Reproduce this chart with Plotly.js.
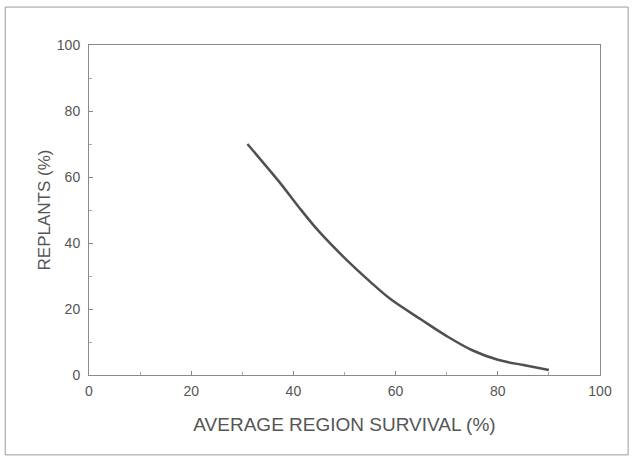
<!DOCTYPE html>
<html>
<head>
<meta charset="utf-8">
<script src="https://cdn.plot.ly/plotly-3.0.1.min.js"></script>
<style>html,body{margin:0;padding:0;background:#fff;}#chart{width:632px;height:458px;}</style>
</head>
<body>
<div id="chart"></div>
<script>
const survival = [31, 34, 37.5, 41, 45, 50, 55, 59, 65, 70, 75, 80, 85, 90];
const replants = [70, 64.5, 58, 51, 43.5, 35.5, 28.3, 23, 16.8, 11.8, 7.5, 4.6, 3, 1.5];
const xTicks = [0, 20, 40, 60, 80, 100];
const yTicks = [0, 20, 40, 60, 80, 100];
const xTitle = "AVERAGE REGION SURVIVAL (%)";
const yTitle = "REPLANTS (%)";

const fontFam = "Liberation Sans, Arial, sans-serif";
const axisCommon = {
  showgrid: false, zeroline: false, showline: true, mirror: true,
  linecolor: "#8a8a8a", linewidth: 1,
  ticks: "inside", ticklen: 4, tickcolor: "#8a8a8a", tickwidth: 1,
  tickfont: {family: fontFam, size: 14, color: "#555"},
  minor: {ticks: "inside", ticklen: 3, tickcolor: "#aaa", dtick: 10},
  fixedrange: true
};

Plotly.newPlot("chart", [{
  x: survival, y: replants, type: "scatter", mode: "lines",
  line: {color: "#505050", width: 2.5, shape: "spline", smoothing: 1},
  hoverinfo: "skip"
}], {
  width: 632, height: 458,
  margin: {l: 89, r: 32, t: 45, b: 83},
  paper_bgcolor: "#fff", plot_bgcolor: "#fff",
  showlegend: false,
  xaxis: Object.assign({}, axisCommon, {
    range: [0, 100], tickvals: xTicks, ticktext: xTicks.map(String),
    ticklabelstandoff: 3,
    title: {text: xTitle, font: {family: fontFam, size: 19, color: "#555"}, standoff: 19}
  }),
  yaxis: Object.assign({}, axisCommon, {
    range: [0, 100], tickvals: yTicks, ticktext: yTicks.map(String),
    ticklabelstandoff: 5,
    title: {text: yTitle, font: {family: fontFam, size: 17, color: "#555"}, standoff: 1}
  }),
  shapes: [{
    type: "rect", xref: "paper", yref: "paper",
    x0: -0.164, x1: 1.055, y0: -0.242, y1: 1.115,
    line: {color: "#999", width: 1}, fillcolor: "rgba(0,0,0,0)", layer: "below"
  }]
}, {staticPlot: true});
</script>
</body>
</html>
